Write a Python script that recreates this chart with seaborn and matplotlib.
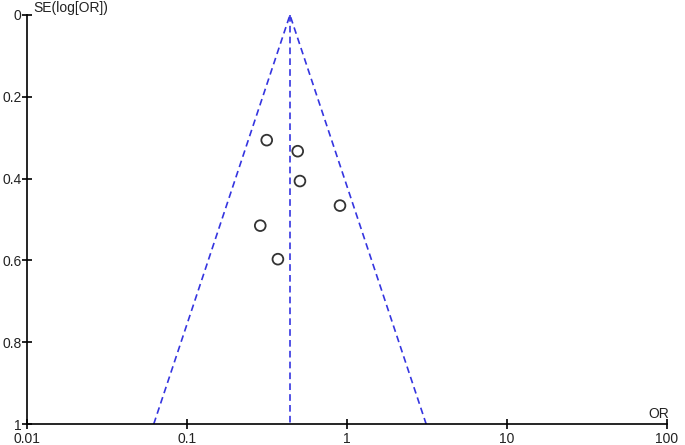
import matplotlib
matplotlib.use('Agg')
import matplotlib.pyplot as plt
import seaborn as sns
import numpy as np
import pandas as pd

# study estimates
odds_ratio = [0.315, 0.492, 0.508, 0.904, 0.287, 0.370]
se_log_or = [0.306, 0.333, 0.406, 0.466, 0.515, 0.597]

# pooled estimate and funnel limits (95% pseudo-CI)
pooled_or = 0.44
se_range = [0.0, 1.0]

x_ticks = [0.01, 0.1, 1, 10, 100]
x_labels = ['0.01', '0.1', '1', '10', '100']
y_ticks = [0, 0.2, 0.4, 0.6, 0.8, 1]
y_labels = ['0', '0.2', '0.4', '0.6', '0.8', '1']

df = pd.DataFrame({'OR': odds_ratio, 'SE': se_log_or})

sns.set_style('ticks')
plt.rcParams['font.family'] = ['Liberation Sans', 'DejaVu Sans']

fig = plt.figure(figsize=(6.85, 4.45), dpi=100)
ax = fig.add_axes([27 / 685, 1 - 424 / 445, 640 / 685, 409 / 445])

# funnel
se = np.array(se_range)
left = np.exp(np.log(pooled_or) - 1.96 * se)
right = np.exp(np.log(pooled_or) + 1.96 * se)
funnel = pd.DataFrame({
    'OR': list(left[::-1]) + list(right),
    'SE': list(se[::-1]) + list(se),
})
line_kw = dict(color='#3535e0', linewidth=1.2, dashes=(4, 2.5))
ax.plot(funnel['OR'], funnel['SE'], **line_kw)
ax.plot([pooled_or, pooled_or], se_range, **line_kw)

sns.scatterplot(data=df, x='OR', y='SE', ax=ax, s=60, marker='o',
                facecolor='none', edgecolor='#333333', linewidth=1.3, zorder=3)

ax.set_xscale('log')
ax.set_xlim(0.01, 100)
ax.set_ylim(1, 0)
ax.set_xticks(x_ticks)
ax.set_xticklabels(x_labels)
ax.xaxis.set_minor_locator(matplotlib.ticker.NullLocator())
ax.set_yticks(y_ticks)
ax.set_yticklabels(y_labels)
ax.set_xlabel('')
ax.set_ylabel('')

for side in ['top', 'right']:
    ax.spines[side].set_visible(False)
for side in ['left', 'bottom']:
    ax.spines[side].set_color('black')
    ax.spines[side].set_linewidth(1.2)

ax.tick_params(axis='both', direction='inout', length=7, width=1.2,
               colors='black', labelcolor='#222222', labelsize=10,
               bottom=True, left=True)
ax.tick_params(axis='x', pad=2)
ax.tick_params(axis='y', pad=0.5)

ax.text(0.01, 1.0, 'SE(log[OR])', transform=ax.transAxes, ha='left',
        va='bottom', fontsize=10, color='#222222')
ax.text(1.004, 0.008, 'OR', transform=ax.transAxes, ha='right',
        va='bottom', fontsize=10, color='#222222')

fig.savefig('out.png', dpi=100)
